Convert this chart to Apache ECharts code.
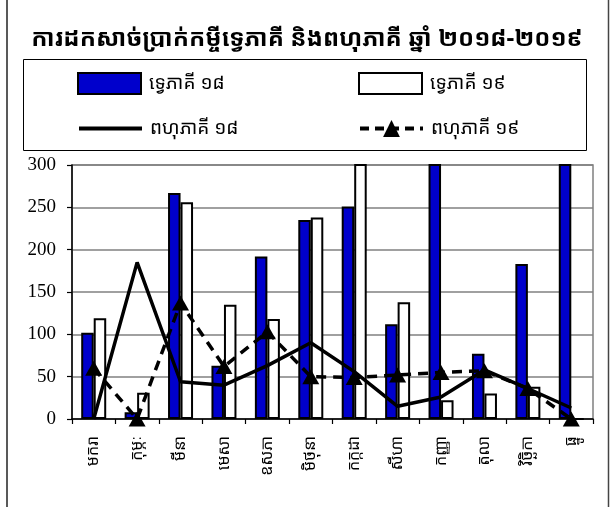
<!DOCTYPE html>
<html>
<head>
<meta charset="utf-8">
<script src="https://cdn.jsdelivr.net/npm/echarts@6/dist/echarts.min.js"></script>
<style>
html,body{margin:0;padding:0;background:#fff;}
#chart{width:614px;height:507px;}
</style>
</head>
<body>
<div id="chart"></div>
<script>
var titleText = 'ការដកសាច់ប្រាក់កម្ចីទ្វេភាគី និងពហុភាគី ឆ្នាំ ២០១៨-២០១៩';
var months = ['មករា','កុម្ភៈ','មីនា','មេសា','ឧសភា','មិថុនា','កក្កដា','សីហា','កញ្ញា','តុលា','វិច្ឆិកា','ធ្នូ'];
var seriesNames = ['ទ្វេភាគី ១៨','ទ្វេភាគី ១៩','ពហុភាគី ១៨','ពហុភាគី ១៩'];
var bilateral18 = [102, 8, 267, 63, 192, 235, 251, 112, 350, 77, 183, 400];
var bilateral19 = [119, 31, 256, 135, 118, 238, 310, 138, 22, 30, 38, 0];
var multilateral18 = [0, 185, 44, 40, 63, 90, 56, 15, 26, 58, 36, 13];
var multilateral19 = [60, 0, 137, 62, 103, 50, 49, 52, 55, 57, 36, 0];
var yTicks = [0, 50, 100, 150, 200, 250, 300];

var KH = "'Noto Sans Khmer','Khmer OS','Khmer OS System','Noto Sans',sans-serif";
var chart = echarts.init(document.getElementById('chart'));

function legendAt(name, left, top, extra, lineStyle) {
  var item = {name: name};
  if (extra) { for (var k in extra) item[k] = extra[k]; }
  var lg = {
    data: [item], left: left, top: top, orient: 'horizontal',
    itemWidth: 63, itemHeight: 21, itemGap: 0, padding: 0,
    textStyle: {fontFamily: KH, fontSize: 19, color: '#000', padding: [0,0,0,3]},
    selectedMode: false
  };
  if (lineStyle) lg.lineStyle = lineStyle;
  return lg;
}

chart.setOption({
  animation: false,
  backgroundColor: '#fff',
  title: {
    text: titleText, left: 'center', top: 22,
    textStyle: {fontFamily: KH, fontSize: 24, fontWeight: 'bold', color: '#000'}
  },
  legend: [
    legendAt(seriesNames[0], 77, 72, {icon: 'rect'}),
    legendAt(seriesNames[1], 358, 72, {icon: 'rect'}),
    legendAt(seriesNames[2], 77, 119, {itemStyle: {color: 'rgba(0,0,0,0)', borderWidth: 0, opacity: 0}},
             {color: '#000', width: 4, type: 'solid'}),
    legendAt(seriesNames[3], 358, 119, null, {color: '#000', width: 4, type: [9, 6]})
  ],
  graphic: [
    {type: 'rect', shape: {x: 23.5, y: 59.5, width: 563, height: 91}, style: {fill: 'none', stroke: '#000', lineWidth: 1}, z: -1},
    {type: 'line', shape: {x1: 7, y1: 0, x2: 7, y2: 507}, style: {stroke: '#222', lineWidth: 1.5}},
    {type: 'line', shape: {x1: 608.5, y1: 0, x2: 608.5, y2: 507}, style: {stroke: '#444', lineWidth: 1.5}}
  ],
  grid: {left: 72, right: 21, top: 165, bottom: 88, show: true, borderColor: '#808080', borderWidth: 1.5, backgroundColor: 'transparent'},
  xAxis: {
    type: 'category', data: months, boundaryGap: true,
    axisLine: {lineStyle: {color: '#000', width: 1.5}},
    axisTick: {show: true, length: 5, lineStyle: {color: '#000', width: 1.2}},
    axisLabel: {rotate: 90, interval: 0, margin: 17, fontFamily: KH, fontSize: 16, color: '#000'},
    splitLine: {show: false}
  },
  yAxis: {
    type: 'value', min: yTicks[0], max: yTicks[yTicks.length-1], interval: 50,
    axisLine: {show: true, lineStyle: {color: '#000', width: 1.5}},
    axisTick: {show: true, length: 5, lineStyle: {color: '#000', width: 1.2}},
    axisLabel: {margin: 16, fontFamily: "'Liberation Serif','Times New Roman',serif", fontSize: 19, color: '#000'},
    splitLine: {show: true, lineStyle: {color: '#808080', width: 1.5}}
  },
  series: [
    {name: seriesNames[0], type: 'bar', data: bilateral18, barWidth: 12.5, barGap: '0%', clip: true,
     itemStyle: {color: '#0000cc', borderColor: '#000', borderWidth: 2}},
    {name: seriesNames[1], type: 'bar', data: bilateral19, barWidth: 12.5, barGap: '0%', clip: true,
     itemStyle: {color: '#fff', borderColor: '#000', borderWidth: 2}},
    {name: seriesNames[2], type: 'line', data: multilateral18, symbol: 'none', clip: true,
     lineStyle: {color: '#000', width: 3.5}, itemStyle: {color: '#000'}, z: 5},
    {name: seriesNames[3], type: 'line', data: multilateral19, symbol: 'triangle', symbolSize: [17, 15], clip: false,
     lineStyle: {color: '#000', width: 3.5, type: [10, 7]}, itemStyle: {color: '#000'}, z: 6}
  ]
});
</script>
</body>
</html>
